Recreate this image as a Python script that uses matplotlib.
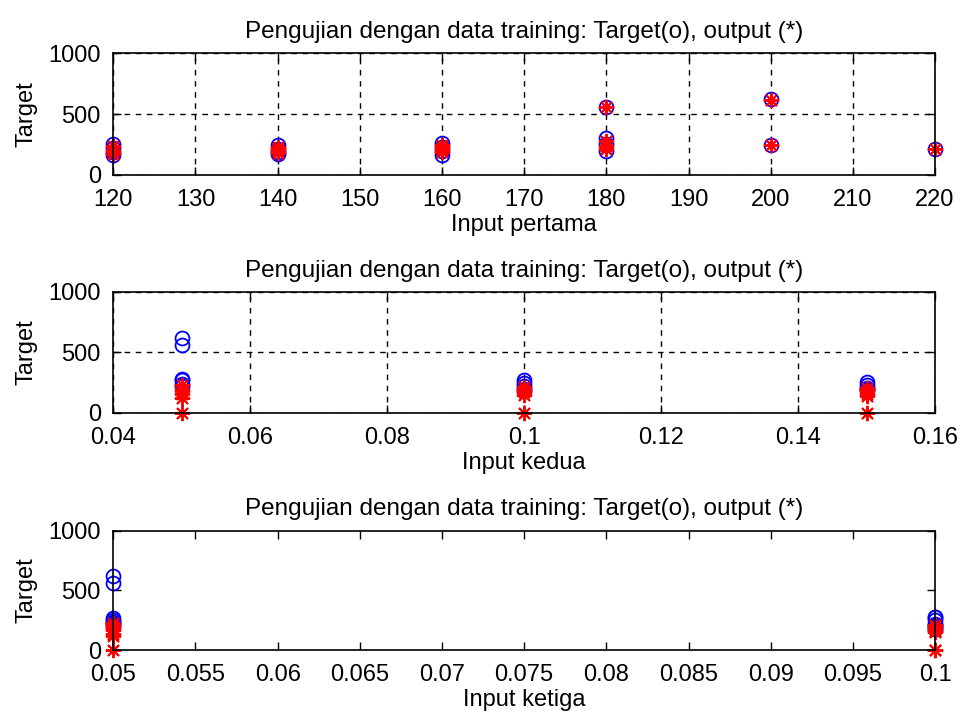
import matplotlib.pyplot as plt
import numpy as np
from matplotlib.ticker import FuncFormatter

plt.rcParams["font.family"] = ["Liberation Sans", "DejaVu Sans"]
plt.rcParams["font.size"] = 17

# data for the first plot (input pertama)
input1 = [120, 120, 120, 120, 140, 140, 140, 140, 160, 160, 160, 160,
          180, 180, 180, 180, 200, 200, 220]
target1 = [250, 220, 190, 160, 245, 215, 190, 170, 265, 230, 200, 165,
           560, 300, 250, 200, 620, 245, 210]
output1 = [235, 205, 180, 170, 230, 210, 195, 180, 245, 220, 205, 185,
           555, 280, 240, 215, 615, 245, 215]

# data for the second and third plot (input kedua / ketiga)
input2 = [0.05, 0.05, 0.05, 0.05, 0.05, 0.05, 0.1, 0.1, 0.1, 0.1, 0.1,
          0.15, 0.15, 0.15, 0.15, 0.15]
input3 = [0.05, 0.05, 0.05, 0.05, 0.1, 0.1, 0.05, 0.05, 0.1, 0.1, 0.1,
          0.05, 0.05, 0.1, 0.1, 0.1]
target23 = [620, 560, 270, 240, 280, 220, 250, 220, 275, 200, 180,
            230, 200, 255, 210, 190]
output23 = [0, 120, 230, 200, 180, 160, 190, 170, 215, 150, 0,
            180, 140, 205, 160, 0]

judul = "Pengujian dengan data training: Target(o), output (*)"
star = (8, 2, 0)


def gambar(ax, x, target, output, xlabel, grid=True):
    ax.plot(x, target, "o", mfc="none", mec="blue", ms=10, mew=1.3, clip_on=False)
    ax.plot(x, output, marker=star, ls="none", color="red", ms=11, mew=1.4, clip_on=False)
    ax.set_ylim(0, 1000)
    ax.set_yticks([0, 500, 1000])
    ax.set_title(judul, fontsize=17.5, pad=11)
    ax.set_xlabel(xlabel, labelpad=2)
    ax.set_ylabel("Target", labelpad=8)
    ax.tick_params(direction="in", top=True, right=True, length=6, width=1,
                   labelsize=17)
    ax.tick_params(axis="x", pad=10)
    ax.tick_params(axis="y", pad=9)
    if grid:
        ax.grid(True, color="black", linestyle=(0, (4, 4)), linewidth=1)
    for s in ax.spines.values():
        s.set_linewidth(1.2)


fig = plt.figure(figsize=(9.6, 7.17), dpi=100)
ax1 = fig.add_axes([0.118, 0.756, 0.856, 0.170])
ax2 = fig.add_axes([0.118, 0.424, 0.856, 0.169])
ax3 = fig.add_axes([0.118, 0.093, 0.856, 0.167])

gambar(ax1, input1, target1, output1, "Input pertama")
ax1.set_xlim(120, 220)
ax1.set_xticks(np.arange(120, 221, 10))

gambar(ax2, input2, target23, output23, "Input kedua")
ax2.set_xlim(0.04, 0.16)
ax2.set_xticks([0.04, 0.06, 0.08, 0.1, 0.12, 0.14, 0.16])
ax2.xaxis.set_major_formatter(FuncFormatter(lambda v, p: "%g" % round(v, 3)))

gambar(ax3, input3, target23, output23, "Input ketiga", grid=False)
ax3.set_xlim(0.05, 0.1)
ax3.set_xticks(np.arange(0.05, 0.1001, 0.005))
ax3.xaxis.set_major_formatter(FuncFormatter(lambda v, p: "%g" % round(v, 3)))

fig.savefig("out.png", dpi=100)
